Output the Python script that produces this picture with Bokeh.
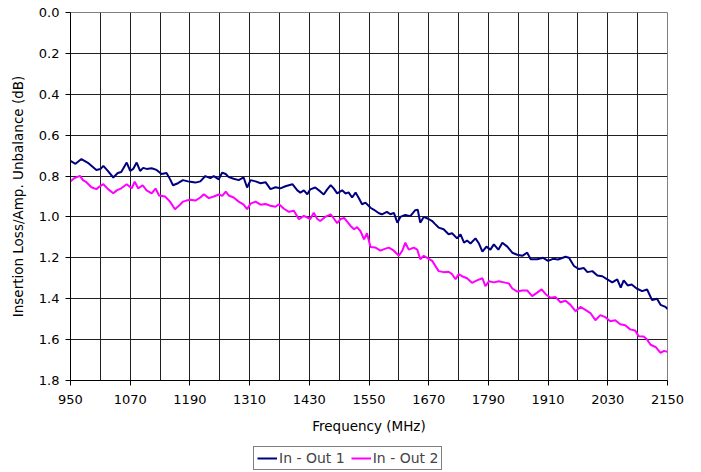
from bokeh.plotting import figure
from bokeh.layouts import column
from bokeh.models import Range1d, FixedTicker, Legend, LegendItem, NumeralTickFormatter
from bokeh.embed import file_html
from bokeh.resources import INLINE

# ---- data ----
freq_out1 = [949, 960, 972, 985, 1002, 1010, 1016, 1025, 1036, 1045, 1052, 1063, 1070, 1076, 1083,
             1090, 1096, 1103, 1113, 1123, 1133, 1143, 1150, 1156, 1166, 1176, 1186, 1191, 1201, 1211,
             1221, 1231, 1238, 1248, 1255, 1262, 1268, 1278, 1288, 1298, 1305, 1312, 1322, 1332, 1342,
             1352, 1362, 1372, 1382, 1396, 1406, 1412, 1419, 1426, 1432, 1442, 1452, 1459, 1466, 1473,
             1479, 1486, 1496, 1503, 1509, 1516, 1523, 1530, 1536, 1543, 1553, 1560, 1570, 1576, 1586,
             1593, 1600, 1607, 1613, 1623, 1633, 1643, 1648, 1653, 1660, 1670, 1677, 1683, 1690, 1700,
             1710, 1717, 1727, 1734, 1741, 1747, 1754, 1764, 1771, 1778, 1786, 1794, 1801, 1810, 1818,
             1828, 1838, 1848, 1858, 1868, 1875, 1888, 1900, 1910, 1920, 1930, 1945, 1952, 1962, 1972,
             1982, 1989, 1999, 2009, 2019, 2029, 2039, 2049, 2056, 2062, 2070, 2078, 2088, 2099, 2109,
             2119, 2129, 2136, 2146, 2150]
loss_out1 = [0.725, 0.74, 0.717, 0.735, 0.77, 0.766, 0.75, 0.775, 0.807, 0.785, 0.78, 0.734, 0.775, 0.765, 0.734,
             0.775, 0.76, 0.765, 0.762, 0.77, 0.79, 0.785, 0.815, 0.845, 0.835, 0.82, 0.826, 0.828, 0.832, 0.826,
             0.80, 0.81, 0.80, 0.816, 0.783, 0.79, 0.805, 0.813, 0.82, 0.807, 0.856, 0.82, 0.826, 0.835, 0.83,
             0.864, 0.855, 0.86, 0.85, 0.84, 0.87, 0.881, 0.87, 0.889, 0.865, 0.856, 0.875, 0.89, 0.865, 0.844,
             0.86, 0.885, 0.87, 0.885, 0.88, 0.905, 0.881, 0.91, 0.938, 0.93, 0.955, 0.965, 0.982, 0.987, 0.975,
             0.987, 0.98, 1.028, 1.0, 0.99, 0.996, 0.967, 0.965, 1.028, 1.0, 1.01, 1.02, 1.035, 1.052, 1.06,
             1.085, 1.08, 1.105, 1.085, 1.126, 1.115, 1.13, 1.105, 1.13, 1.17, 1.145, 1.16, 1.134, 1.16, 1.126,
             1.145, 1.175, 1.185, 1.19, 1.175, 1.207, 1.207, 1.20, 1.215, 1.205, 1.208, 1.195, 1.20, 1.24, 1.255,
             1.25, 1.27, 1.265, 1.286, 1.29, 1.305, 1.32, 1.305, 1.346, 1.31, 1.335, 1.33, 1.35, 1.363, 1.355,
             1.407, 1.40, 1.43, 1.44, 1.45]

freq_out2 = [949, 958, 969, 975, 982, 992, 1002, 1009, 1016, 1026, 1036, 1043, 1052, 1063, 1073,
             1079, 1086, 1095, 1103, 1113, 1121, 1128, 1140, 1150, 1160, 1170, 1176, 1183, 1191, 1201,
             1211, 1218, 1228, 1238, 1248, 1255, 1262, 1268, 1278, 1288, 1298, 1305, 1312, 1322, 1332,
             1342, 1352, 1362, 1369, 1379, 1389, 1399, 1409, 1419, 1432, 1439, 1446, 1452, 1462, 1473,
             1480, 1486, 1493, 1500, 1513, 1520, 1526, 1533, 1540, 1546, 1553, 1563, 1573, 1583, 1590,
             1600, 1610, 1617, 1623, 1630, 1640, 1647, 1653, 1660, 1667, 1677, 1690, 1700, 1710, 1717,
             1724, 1730, 1737, 1747, 1757, 1767, 1778, 1784, 1791, 1801, 1811, 1821, 1831, 1838, 1848,
             1858, 1868, 1878, 1888, 1897, 1905, 1915, 1925, 1935, 1945, 1955, 1965, 1975, 1985, 1995,
             2005, 2015, 2025, 2035, 2045, 2055, 2065, 2075, 2085, 2092, 2102, 2109, 2116, 2126, 2136,
             2143, 2150]
loss_out2 = [0.828, 0.81, 0.799, 0.82, 0.83, 0.855, 0.864, 0.85, 0.84, 0.865, 0.884, 0.87, 0.86, 0.84, 0.86,
             0.828, 0.86, 0.845, 0.87, 0.885, 0.861, 0.895, 0.90, 0.925, 0.962, 0.94, 0.925, 0.92, 0.916, 0.92,
             0.905, 0.889, 0.908, 0.90, 0.89, 0.897, 0.876, 0.895, 0.905, 0.925, 0.94, 0.962, 0.935, 0.925, 0.94,
             0.937, 0.945, 0.95, 0.938, 0.96, 0.975, 0.97, 1.011, 0.995, 1.01, 0.979, 1.01, 1.02, 1.0, 0.987,
             1.01, 1.03, 1.01, 1.005, 1.044, 1.06, 1.05, 1.07, 1.11, 1.08, 1.147, 1.15, 1.165, 1.155, 1.15,
             1.165, 1.19, 1.165, 1.126, 1.16, 1.15, 1.16, 1.207, 1.19, 1.20, 1.215, 1.265, 1.27, 1.268, 1.28,
             1.305, 1.28, 1.29, 1.30, 1.322, 1.31, 1.30, 1.338, 1.315, 1.32, 1.315, 1.32, 1.325, 1.35, 1.365,
             1.36, 1.36, 1.387, 1.37, 1.354, 1.378, 1.395, 1.392, 1.417, 1.41, 1.43, 1.461, 1.44, 1.455, 1.47,
             1.505, 1.48, 1.49, 1.51, 1.505, 1.525, 1.53, 1.55, 1.555, 1.583, 1.585, 1.60, 1.625, 1.636, 1.665,
             1.655, 1.66]

x_ticks = [950, 1070, 1190, 1310, 1430, 1550, 1670, 1790, 1910, 2030, 2150]
x_grid = [950 + 60 * i for i in range(21)]
y_ticks = [0.0, 0.2, 0.4, 0.6, 0.8, 1.0, 1.2, 1.4, 1.6, 1.8]
series_names = ["In - Out 1", "In - Out 2"]
series_colors = ["#000080", "#FF00FF"]

FONT = "DejaVu Sans"

fig = figure(frame_width=597, frame_height=368,
             min_border_left=70, min_border_top=12, min_border_right=34, min_border_bottom=60,
             x_range=Range1d(950, 2150), y_range=Range1d(1.8, 0.0),
             output_backend="svg", toolbar_location=None)
fig.background_fill_color = "white"
fig.border_fill_color = "white"
fig.outline_line_color = "#808080"
fig.outline_line_width = 1

fig.xaxis.ticker = FixedTicker(ticks=x_ticks, minor_ticks=x_grid)
fig.yaxis.ticker = FixedTicker(ticks=y_ticks)
fig.yaxis.formatter = NumeralTickFormatter(format="0.0")

for ax in (fig.xaxis, fig.yaxis):
    ax.major_label_text_font = FONT
    ax.major_label_text_font_size = "13px"
    ax.major_label_text_color = "black"
    ax.axis_label_text_font = FONT
    ax.axis_label_text_font_size = "13.5px"
    ax.axis_label_text_font_style = "normal"
    ax.axis_label_text_color = "black"
    ax.axis_line_color = "black"
    ax.major_tick_line_color = "black"
    ax.major_tick_out = 5
    ax.major_tick_in = 0
    ax.minor_tick_line_color = None

fig.xaxis.axis_label = "Frequency (MHz)"
fig.yaxis.axis_label = "Insertion Loss/Amp. Unbalance (dB)"
fig.xaxis.major_label_standoff = 9
fig.xaxis.axis_label_standoff = 11
fig.yaxis.major_label_standoff = 6
fig.yaxis.axis_label_standoff = 10

fig.xgrid.ticker = FixedTicker(ticks=x_grid)
fig.xgrid.grid_line_color = "#202020"
fig.xgrid.grid_line_width = 1
fig.ygrid.ticker = FixedTicker(ticks=y_ticks)
fig.ygrid.grid_line_color = "#202020"
fig.ygrid.grid_line_width = 1

fig.line(freq_out1, loss_out1, line_color=series_colors[0], line_width=2)
fig.line(freq_out2, loss_out2, line_color=series_colors[1], line_width=2)

# legend strip below the chart (proxy lines fall outside this strip's ranges)
leg = figure(width=701, height=32, min_border=0, x_range=Range1d(0, 1), y_range=Range1d(0, 1),
             output_backend="svg", toolbar_location=None)
leg.axis.visible = False
leg.grid.visible = False
leg.outline_line_color = None
leg.background_fill_color = "white"
leg.border_fill_color = "white"
k1 = leg.line(freq_out1, loss_out1, line_color=series_colors[0], line_width=2)
k2 = leg.line(freq_out2, loss_out2, line_color=series_colors[1], line_width=2)
legend = Legend(items=[LegendItem(label=series_names[0], renderers=[k1]),
                       LegendItem(label=series_names[1], renderers=[k2])],
                orientation="horizontal", location=(183, 2),
                label_text_font=FONT, label_text_font_size="14px",
                label_height=14, glyph_height=14, glyph_width=20,
                label_standoff=2, spacing=6, padding=3, margin=0,
                border_line_color="black", border_line_width=1,
                background_fill_color="white", background_fill_alpha=1)
leg.add_layout(legend, "center")

p = column(fig, leg, spacing=0)

open("out.html", "w").write(file_html(p, INLINE))
